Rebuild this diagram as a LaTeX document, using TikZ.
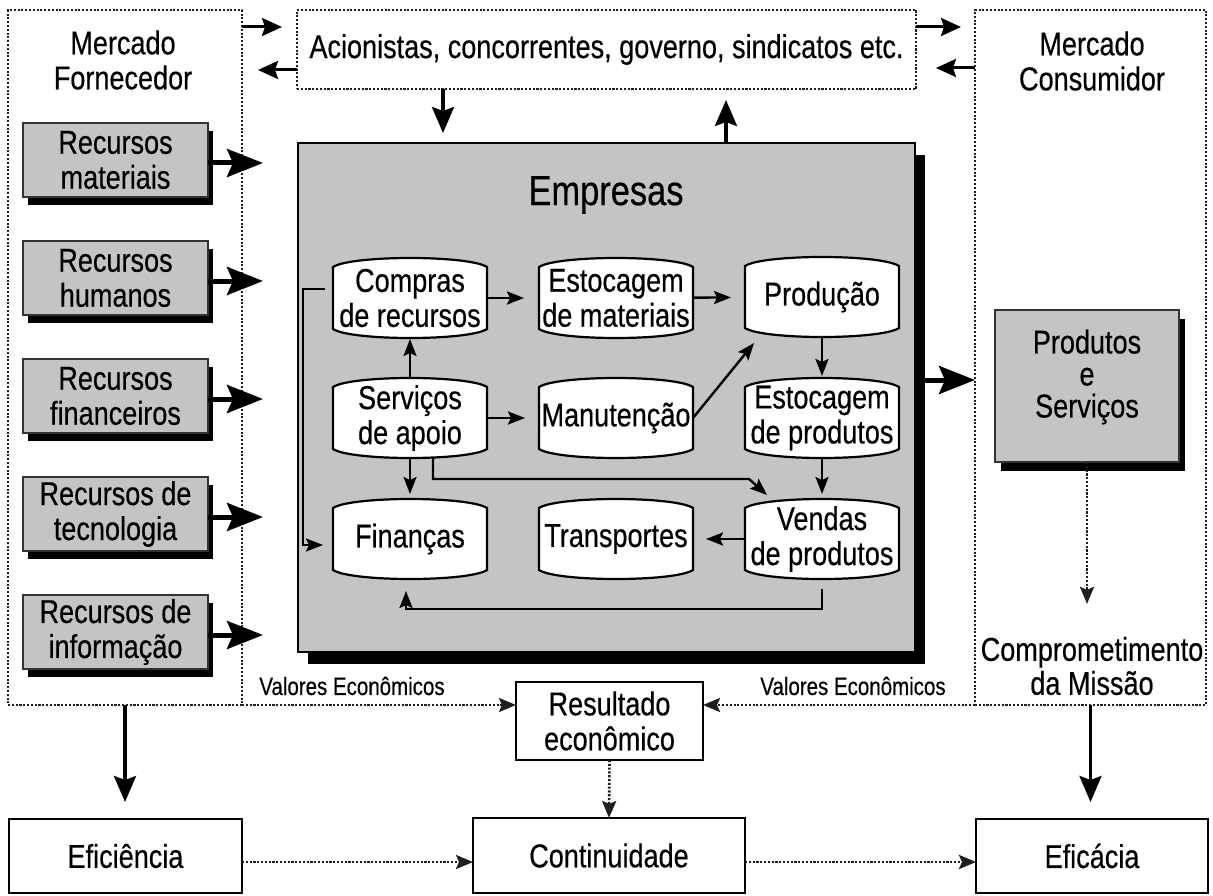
\documentclass[tikz,border=0pt]{standalone}
\usepackage{fontspec}
\setmainfont{Liberation Sans}[FakeStretch=0.82,FakeBold=0.4]
\usetikzlibrary{arrows.meta,calc,shadows}
\definecolor{boxgray}{HTML}{C4C4C4}
\definecolor{dotgray}{HTML}{1E1E1E}

% Barrel (cylinder seen from the side): straight sides, bulging top and bottom
\makeatletter
\newdimen\brlL \newdimen\brlR \newdimen\brlB \newdimen\brlT \newdimen\brlC \newdimen\brlD
\pgfdeclareshape{barrel}{
  \inheritsavedanchors[from=rectangle]
  \inheritanchorborder[from=rectangle]
  \inheritanchor[from=rectangle]{center}
  \inheritanchor[from=rectangle]{north}
  \inheritanchor[from=rectangle]{south}
  \inheritanchor[from=rectangle]{east}
  \inheritanchor[from=rectangle]{west}
  \inheritanchor[from=rectangle]{north east}
  \inheritanchor[from=rectangle]{north west}
  \inheritanchor[from=rectangle]{south east}
  \inheritanchor[from=rectangle]{south west}
  \inheritanchor[from=rectangle]{text}
  \inheritanchor[from=rectangle]{base}
  \inheritanchor[from=rectangle]{mid}
  \backgroundpath{%
    \southwest \brlL=\pgf@x \brlB=\pgf@y
    \northeast \brlR=\pgf@x \brlT=\pgf@y
    \brlC=\brlR \advance\brlC by -\brlL \brlC=0.12\brlC
    \brlD=9pt
    \pgfpathmoveto{\pgfqpoint{\brlL}{\dimexpr\brlT-\brlD\relax}}%
    \pgfpathlineto{\pgfqpoint{\brlL}{\dimexpr\brlB+\brlD\relax}}%
    \pgfpathcurveto{\pgfqpoint{\dimexpr\brlL+\brlC\relax}{\dimexpr\brlB-\brlD/3\relax}}%
                   {\pgfqpoint{\dimexpr\brlR-\brlC\relax}{\dimexpr\brlB-\brlD/3\relax}}%
                   {\pgfqpoint{\brlR}{\dimexpr\brlB+\brlD\relax}}%
    \pgfpathlineto{\pgfqpoint{\brlR}{\dimexpr\brlT-\brlD\relax}}%
    \pgfpathcurveto{\pgfqpoint{\dimexpr\brlR-\brlC\relax}{\dimexpr\brlT+\brlD/3\relax}}%
                   {\pgfqpoint{\dimexpr\brlL+\brlC\relax}{\dimexpr\brlT+\brlD/3\relax}}%
                   {\pgfqpoint{\brlL}{\dimexpr\brlT-\brlD\relax}}%
    \pgfpathclose
  }
}
\makeatother

\begin{document}
\begin{tikzpicture}[x=1pt,y=-1pt,
  lbl/.style={font=\fontsize{33}{35}\selectfont, align=center, inner sep=0pt, outer sep=0pt},
  graybox/.style={lbl, draw=black!80, line width=1.5pt, fill=boxgray},
  resbox/.style={graybox, minimum width=185pt, minimum height=74pt,
    drop shadow={shadow xshift=5pt, shadow yshift=-8pt, fill=black, opacity=1}},
  cyl/.style={lbl, shape=barrel, draw, line width=2.2pt, fill=white,
    minimum width=154pt, minimum height=80pt},
  plainbox/.style={lbl, draw, line width=2.2pt, fill=white},
  dotbox/.style={draw=dotgray, line width=2.6pt, dash pattern=on 2.1pt off 1.7pt,
    inner sep=0pt, outer sep=0pt},
  bigarrow/.style={line width=5pt, -{Stealth[length=36pt, width=28pt, inset=6pt]}},
  midarrow/.style={line width=3.5pt, -{Stealth[length=26pt, width=22pt, inset=4pt]}},
  sidearrow/.style={line width=3pt, -{Stealth[length=20pt, width=18pt, inset=3pt]}},
  arr/.style={line width=2.4pt, -{Stealth[length=17pt, width=13pt, inset=3pt]}},
  dotarrow/.style={draw=dotgray, line width=2.6pt, dash pattern=on 2.1pt off 1.7pt,
    -{Stealth[length=17pt, width=14pt, inset=3pt]}},
  valtxt/.style={font=\fontsize{25}{27}\selectfont, inner sep=0pt}
]
\fill[white] (0,0) rectangle (1213,896);
\useasboundingbox (0,0) rectangle (1213,896);

% ---- surrounding markets and stakeholders ----
\node[dotbox, minimum width=234pt, minimum height=695pt] (fornecedor) at (125,357.5) {};
\node[dotbox, minimum width=231pt, minimum height=695pt] (consumidor) at (1090.5,357.5) {};
\node[dotbox, lbl, minimum width=619pt, minimum height=79pt] (acion) at (606.5,49.5)
  {Acionistas, concorrentes, governo, sindicatos etc.};
\node[lbl] (fornTitle) at (123,60) {Mercado\\Fornecedor};
\node[lbl] (consTitle) at (1092,61) {Mercado\\Consumidor};

% ---- the company ----
\node[draw, line width=2.2pt, fill=boxgray, minimum width=617pt, minimum height=509pt,
  inner sep=0pt, outer sep=0pt,
  drop shadow={shadow xshift=10pt, shadow yshift=-12pt, fill=black, opacity=1}]
  (empresas) at (606.5,397.5) {};
\node[font=\fontsize{42}{44}\selectfont, inner sep=0pt] (empTitle) at (606,195) {Empresas};

\node[cyl] (compras)  at (410,298) {Compras\\de recursos};
\node[cyl] (estmat)   at (616,298) {Estocagem\\de materiais};
\node[cyl] (producao) at (822,297) {Produção};
\node[cyl] (servicos) at (410,418) {Serviços\\de apoio};
\node[cyl] (manut)    at (616,418) {Manutenção};
\node[cyl] (estprod)  at (822,418) {Estocagem\\de produtos};
\node[cyl] (financas) at (410,539) {Finanças};
\node[cyl] (transp)   at (616,539) {Transportes};
\node[cyl] (vendas)   at (822,539) {Vendas\\de produtos};

% ---- resources ----
\node[resbox] (res1) at (115.5,160) {Recursos\\materiais};
\node[resbox] (res2) at (115.5,278) {Recursos\\humanos};
\node[resbox] (res3) at (115.5,396) {Recursos\\financeiros};
\node[resbox] (res4) at (115.5,514) {Recursos de\\tecnologia};
\node[resbox] (res5) at (115.5,632) {Recursos de\\informação};

% ---- products ----
\node[graybox, minimum width=184pt, minimum height=152pt,
  drop shadow={shadow xshift=6pt, shadow yshift=-9pt, fill=black, opacity=1}]
  (produtos) at (1087,386) {};
\node[lbl, font=\fontsize{33}{32}\selectfont] (prodTxt) at ([yshift=9pt]produtos.center)
  {Produtos\\e\\Serviços};
\node[lbl, font=\fontsize{33}{34}\selectfont] (missao) at (1092,666) {Comprometimento\\da Missão};

% ---- results ----
\node[plainbox, minimum width=187pt, minimum height=78pt] (resultado) at (609.5,721)
  {Resultado\\econômico};
\node[plainbox, minimum width=233pt, minimum height=74pt] (eficiencia) at (125.5,856) {Eficiência};
\node[plainbox, minimum width=272pt, minimum height=75pt] (continuidade) at (609,855.5) {Continuidade};
\node[plainbox, minimum width=232pt, minimum height=74pt] (eficacia) at (1092,856) {Eficácia};
\node[valtxt] (valL) at (352,686) {Valores Econômicos};
\node[valtxt] (valR) at (853,686) {Valores Econômicos};

% ---- helper levels ----
\coordinate (yTop) at (0,27);
\coordinate (yTopB) at (0,70);
\coordinate (yTopC) at (0,68);
\coordinate (xDown) at (443,0);
\coordinate (xUp) at (726,0);
\coordinate (yProd) at (0,380);
\coordinate (yBot) at (0,862);

% ---- exchanges with the stakeholders ----
\draw[sidearrow, shorten >=15pt] (fornecedor.east |- yTop) -- (acion.west |- yTop);
\draw[sidearrow, shorten >=16pt] (acion.west |- yTopB) -- (fornecedor.east |- yTopB);
\draw[sidearrow, shorten >=14pt] (acion.east |- yTop) -- (consumidor.west |- yTop);
\draw[sidearrow, shorten >=20pt] (consumidor.west |- yTopC) -- (acion.east |- yTopC);
\draw[midarrow, shorten >=10pt] (acion.south -| xDown) -- (empresas.north -| xDown);
\draw[midarrow, shorten >=11pt] (empresas.north -| xUp) -- (acion.south -| xUp);

% ---- resources in, products out ----
\foreach \i in {1,...,5}{
  \coordinate (r\i) at ($(res\i.east)+(0,3)$);
  \draw[bigarrow, shorten >=35pt] (r\i) -- (empresas.west |- r\i);
}
\draw[bigarrow] (empresas.east |- yProd) -- (consumidor.west |- yProd);

% ---- internal flows ----
\draw[arr, shorten >=15pt] (compras) -- (estmat);
\draw[arr, shorten >=14pt] (estmat) -- (producao);
\draw[arr, shorten >=2pt] (producao.south) -- (estprod.north);
\draw[arr, shorten >=1pt] (servicos.north) -- (compras.south);
\draw[arr, shorten >=14pt] (servicos) -- (manut);
\draw[arr] (manut.east) -- ($(producao.south west)+(9,6)$);
\draw[arr, shorten >=5pt] (servicos.south) -- (financas.north);
\draw[arr] ($(servicos.south)+(23,0)$) |- ($(vendas.north west)+(4,-20)$)
  -- ($(vendas.north west)+(22,-4)$);
\draw[arr, shorten >=5pt] (estprod.south) -- (vendas.north);
\draw[arr, shorten >=13pt] (vendas) -- (transp);
\draw[arr] ($(vendas.south)+(0,10)$) |- ($(financas.south)+(-4,30)$)
  -- ($(financas.south)+(-4,12)$);
\draw[arr] ($(compras.west)+(-8,-9)$) -- ++(-22,0) |- ($(financas.west)+(-10,6)$);

% ---- economic results ----
\draw[dotarrow] (fornecedor.south east) -- (fornecedor.south east -| resultado.west);
\draw[dotarrow] (consumidor.south west) -- (consumidor.south west -| resultado.east);
\draw[dotarrow] (resultado.south) -- (continuidade.north);
\draw[dotarrow] (eficiencia.east |- yBot) -- (continuidade.west |- yBot);
\draw[dotarrow] (continuidade.east |- yBot) -- (eficacia.west |- yBot);
\draw[dotarrow, shorten >=33pt] (produtos.south) -- (produtos.south |- missao.north);
\draw[midarrow, shorten >=17pt] (fornecedor.south) -- (fornecedor.south |- eficiencia.north);
\draw[midarrow, shorten >=17pt] (consumidor.south) -- (consumidor.south |- eficacia.north);
\end{tikzpicture}
\end{document}
